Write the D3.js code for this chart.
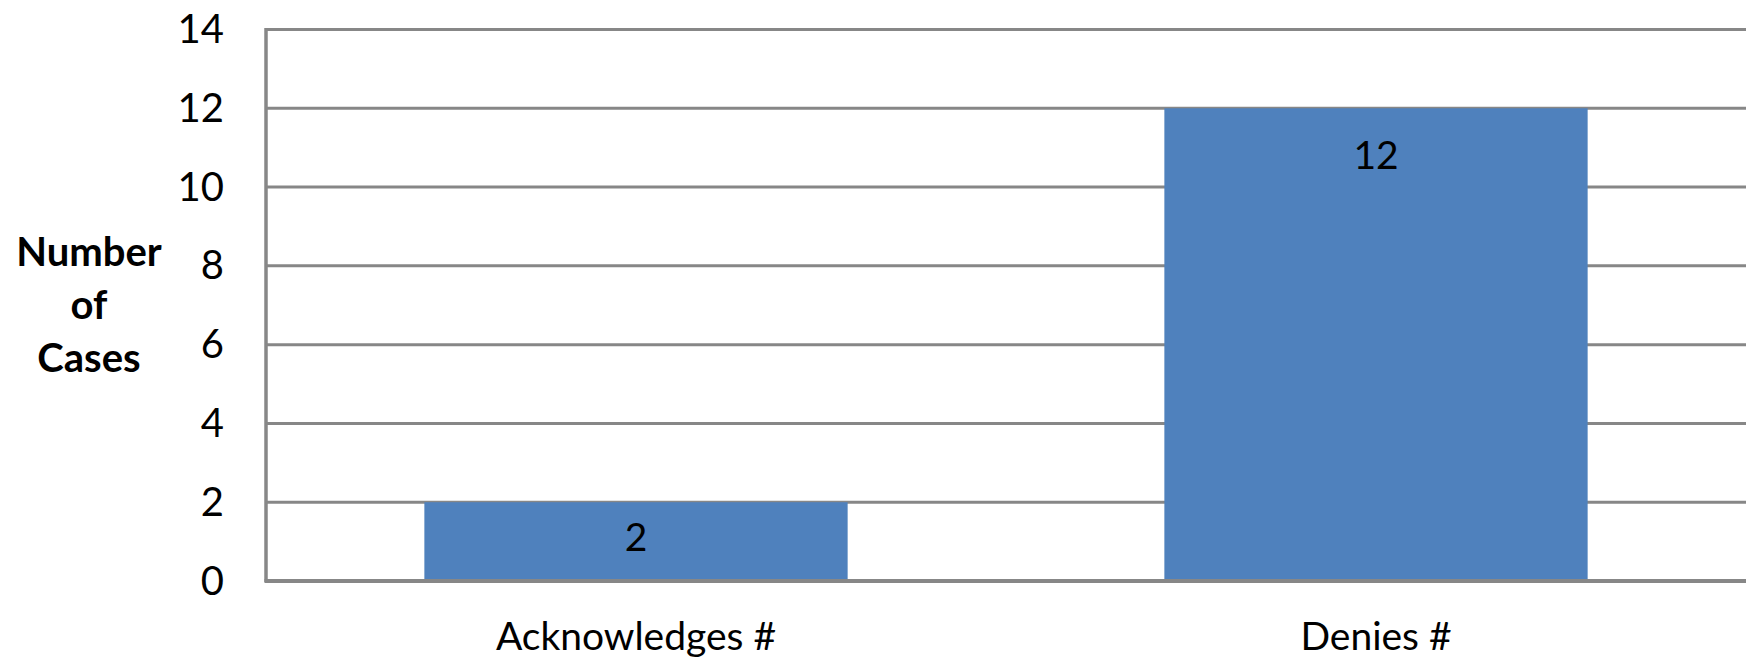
<!DOCTYPE html>
<html>
<head>
<meta charset="utf-8">
<script src="https://cdn.jsdelivr.net/npm/d3@7"></script>
<style>
  body { margin: 0; background: #fff; }
  svg text { font-family: Lato, "Open Sans", sans-serif; fill: #000; }
</style>
</head>
<body>
<svg id="chart" width="1747" height="661"></svg>
<script>
// chart data
var categories = ["Acknowledges #", "Denies #"];
var cases = [2, 12];
var yTicks = [0, 2, 4, 6, 8, 10, 12, 14];
var yTitle = ["Number", "of", "Cases"];

var plotLeft = 266, plotRight = 1746, plotTop = 29.5, plotBottom = 581;

var svg = d3.select("#chart");

var x = d3.scaleBand()
    .domain(categories)
    .range([plotLeft, plotRight])
    .paddingInner(0.428)
    .paddingOuter(0.214);

var y = d3.scaleLinear()
    .domain([0, 14])
    .range([plotBottom, plotTop]);

// gridlines
svg.append("g")
    .selectAll("line")
    .data(yTicks.filter(function(d){ return d > 0; }))
    .enter().append("line")
    .attr("x1", plotLeft)
    .attr("x2", plotRight)
    .attr("y1", function(d){ return y(d); })
    .attr("y2", function(d){ return y(d); })
    .attr("stroke", "#878787")
    .attr("stroke-width", 3);

// bars
svg.append("g")
    .selectAll("rect")
    .data(cases)
    .enter().append("rect")
    .attr("x", function(d, i){ return x(categories[i]); })
    .attr("width", x.bandwidth())
    .attr("y", function(d){ return y(d); })
    .attr("height", function(d){ return y(0) - y(d); })
    .attr("fill", "#4F81BD");

// value labels (inside end, centered when the bar is short)
svg.append("g")
    .selectAll("text")
    .data(cases)
    .enter().append("text")
    .attr("x", function(d, i){ return x(categories[i]) + x.bandwidth() / 2; })
    .attr("y", function(d){
        var h = y(0) - y(d);
        if (h < 130) return y(d) + h / 2 + 9;
        return y(d) + 61;
    })
    .attr("text-anchor", "middle")
    .attr("font-size", 39)
    .text(function(d){ return d; });

// y axis line
svg.append("line")
    .attr("x1", plotLeft).attr("x2", plotLeft)
    .attr("y1", plotTop - 1.5).attr("y2", plotBottom + 1)
    .attr("stroke", "#878787")
    .attr("stroke-width", 3.5);

// x axis line
svg.append("line")
    .attr("x1", plotLeft - 1.5).attr("x2", plotRight)
    .attr("y1", plotBottom).attr("y2", plotBottom)
    .attr("stroke", "#878787")
    .attr("stroke-width", 4);

// y tick labels
svg.append("g")
    .selectAll("text")
    .data(yTicks)
    .enter().append("text")
    .attr("x", 224)
    .attr("y", function(d){ return y(d) + 13.5; })
    .attr("text-anchor", "end")
    .attr("font-size", 40)
    .text(function(d){ return d; });

// x category labels
svg.append("g")
    .selectAll("text")
    .data(categories)
    .enter().append("text")
    .attr("x", function(d){ return x(d) + x.bandwidth() / 2; })
    .attr("y", 649.5)
    .attr("text-anchor", "middle")
    .attr("font-size", 39)
    .text(function(d){ return d; });

// y title
svg.append("text")
    .attr("text-anchor", "middle")
    .attr("font-size", 40)
    .attr("font-weight", "bold")
    .selectAll("tspan")
    .data(yTitle)
    .enter().append("tspan")
    .attr("x", 89)
    .attr("y", function(d, i){ return 266 + i * 52.8; })
    .text(function(d){ return d; });
</script>
</body>
</html>
